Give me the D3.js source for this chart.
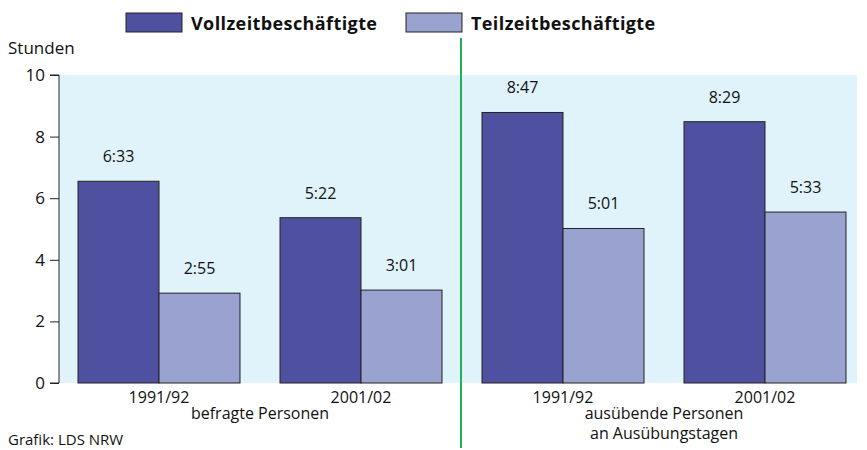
<!DOCTYPE html>
<html>
<head>
    <meta charset="utf-8">
    <title>Stunden je Tag</title>
    <script src="https://d3js.org/d3.v7.min.js"></script>
    <style>
        body { margin: 0; background: #fff; }
        svg text { font-family: "Open Sans", "Noto Sans", sans-serif; fill: #111; }
    </style>
</head>
<body>
<svg id="chart" width="867" height="450"></svg>
<script>
    // data
    const groups = ["g1", "g2", "g3", "g4"];
    const groupLabels = ["1991/92", "2001/02", "1991/92", "2001/02"];
    const seriesNames = ["Vollzeitbeschäftigte", "Teilzeitbeschäftigte"];
    const vollzeit = [6 + 33 / 60, 5 + 22 / 60, 8 + 47 / 60, 8 + 29 / 60];
    const teilzeit = [2 + 55 / 60, 3 + 1 / 60, 5 + 1 / 60, 5 + 33 / 60];
    const vollzeitLabels = ["6:33", "5:22", "8:47", "8:29"];
    const teilzeitLabels = ["2:55", "3:01", "5:01", "5:33"];
    const yTicks = [0, 2, 4, 6, 8, 10];

    const colors = ["#5050a0", "#9aa2d0"];

    const svg = d3.select("#chart");
    const plot = { left: 59, right: 857, top: 75, bottom: 383 };

    const y = d3.scaleLinear().domain([0, 10]).range([plot.bottom, plot.top]);

    // bar pairs: 162px wide, 202px apart
    const x = d3.scaleBand()
        .domain(groups)
        .range([78, 846])
        .paddingInner(40 / 202)
        .paddingOuter(0);

    const inner = d3.scaleBand()
        .domain([0, 1])
        .range([0, x.bandwidth()]);

    // background
    svg.append("rect")
        .attr("x", plot.left).attr("y", plot.top)
        .attr("width", plot.right - plot.left)
        .attr("height", plot.bottom - plot.top)
        .attr("fill", "#e0f2fa");

    // bars
    const series = [vollzeit, teilzeit];
    const labels = [vollzeitLabels, teilzeitLabels];
    series.forEach((vals, s) => {
        svg.append("g")
            .selectAll("rect")
            .data(vals)
            .enter().append("rect")
            .attr("x", (d, i) => x(groups[i]) + inner(s))
            .attr("y", d => y(d))
            .attr("width", inner.bandwidth())
            .attr("height", d => y(0) - y(d))
            .attr("fill", colors[s])
            .attr("stroke", "#222")
            .attr("stroke-width", 1);

        svg.append("g")
            .selectAll("text")
            .data(vals)
            .enter().append("text")
            .attr("x", (d, i) => x(groups[i]) + inner(s) + inner.bandwidth() / 2)
            .attr("y", d => y(d) - 19)
            .attr("text-anchor", "middle")
            .attr("font-size", 16)
            .text((d, i) => labels[s][i]);
    });

    // y axis
    const yAxis = svg.append("g")
        .attr("transform", `translate(${plot.left},0)`)
        .call(d3.axisLeft(y).tickValues(yTicks).tickSize(9).tickPadding(5));
    yAxis.select(".domain").attr("stroke", "#222").attr("d", `M-9,${plot.top}H0V${plot.bottom}H-9`);
    yAxis.selectAll(".tick line").attr("stroke", "#222");
    yAxis.selectAll(".tick text")
        .attr("font-size", 17)
        .attr("font-family", "'Open Sans', sans-serif")
        .attr("fill", "#111");

    // x category labels
    svg.append("g")
        .selectAll("text")
        .data(groupLabels)
        .enter().append("text")
        .attr("x", (d, i) => x(groups[i]) + x.bandwidth() / 2)
        .attr("y", 403)
        .attr("text-anchor", "middle")
        .attr("font-size", 16)
        .text(d => d);

    const mid1 = (x("g1") + x("g2") + x.bandwidth()) / 2;
    const mid2 = (x("g3") + x("g4") + x.bandwidth()) / 2;
    svg.append("text").attr("x", mid1).attr("y", 419)
        .attr("text-anchor", "middle").attr("font-size", 16).text("befragte Personen");
    svg.append("text").attr("x", mid2).attr("y", 419)
        .attr("text-anchor", "middle").attr("font-size", 16).text("ausübende Personen");
    svg.append("text").attr("x", mid2).attr("y", 439)
        .attr("text-anchor", "middle").attr("font-size", 16).text("an Ausübungstagen");

    // divider
    svg.append("line")
        .attr("x1", 461).attr("x2", 461)
        .attr("y1", 38).attr("y2", 448)
        .attr("stroke", "#1fb155").attr("stroke-width", 2);

    // axis title + source
    svg.append("text").attr("x", 8).attr("y", 54).attr("font-size", 17).text("Stunden");
    svg.append("text").attr("x", 8).attr("y", 445).attr("font-size", 15).text("Grafik: LDS NRW");

    // legend
    const legendX = [126, 406];
    seriesNames.forEach((name, s) => {
        svg.append("rect")
            .attr("x", legendX[s]).attr("y", 13)
            .attr("width", 56).attr("height", 19)
            .attr("fill", colors[s]).attr("stroke", "#222");
        svg.append("text")
            .attr("x", legendX[s] + 65).attr("y", 30)
            .attr("font-size", 18).attr("font-weight", "bold")
            .attr("letter-spacing", 0.4)
            .text(name);
    });
</script>
</body>
</html>
